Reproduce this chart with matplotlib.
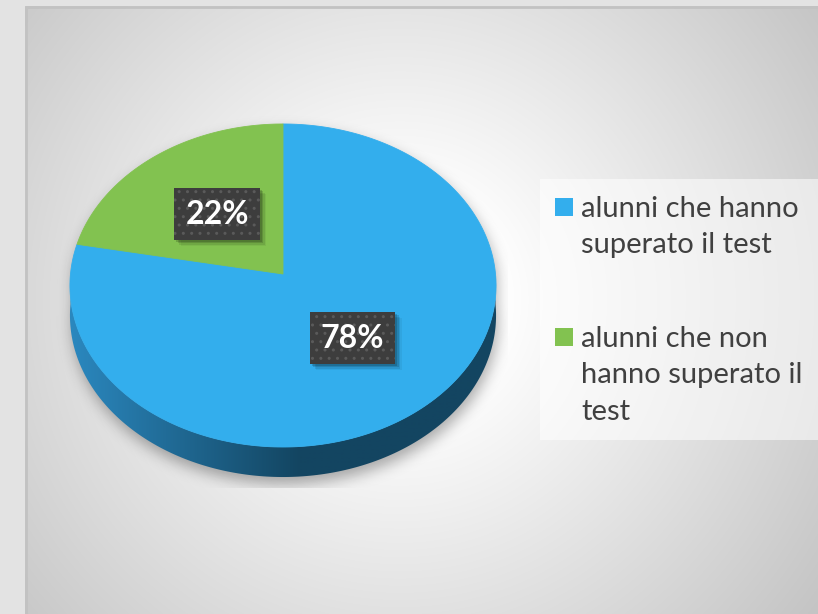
import numpy as np
import matplotlib
matplotlib.use('Agg')
import matplotlib.pyplot as plt
from matplotlib.patches import Polygon, Rectangle
from matplotlib.path import Path

# ---------------- data ----------------
categories = ['alunni che hanno superato il test',
              'alunni che non hanno superato il test']
legend_lines = [['alunni che hanno', 'superato il test'],
                ['alunni che non', 'hanno superato il', 'test']]
values = [78, 22]
pct_labels = ['78%', '22%']
colors = ['#33aeed', '#82c250']
side_colors = [('#2b88bf', '#134561'), ('#5d9a35', '#3a6320')]

W, H = 818, 614
fig = plt.figure(figsize=(8.18, 6.14), dpi=100)
ax = fig.add_axes([0, 0, 1, 1])
ax.axis('off')
ax.set_xlim(0, W)
ax.set_ylim(H, 0)

# ---------------- background ----------------
ax.add_patch(Rectangle((0, 0), W, H, facecolor='#e3e3e3', edgecolor='none', zorder=0))
yy, xx = np.mgrid[0:H, 0:W] + 0.5
r = np.hypot(xx - 400, yy - 300)
g = np.clip(255 - (r - 100) * 0.14, 194, 255) / 255.0
bg = np.dstack([g, g, g])
ax.imshow(bg[6:, 25:], extent=(25, W, H, 6), zorder=1, interpolation='bilinear', aspect='auto')
ax.plot([25.5, 25.5], [6, H], color='#c2c2c2', lw=2, zorder=2, solid_capstyle='butt')
ax.plot([25, W], [6.5, 6.5], color='#c2c2c2', lw=2, zorder=2, solid_capstyle='butt')

# ---------------- pie geometry (perspective) ----------------
CX, CY = 283.0, 274.0
K, A, C = 212.5, 160.7, -0.0712
DEPTH = 30.0


def proj(f, phi_deg):
    phi = np.radians(phi_deg)
    X = f * np.cos(phi)
    Y = -f * np.sin(phi)
    d = 1 + C * Y
    return CX + K * X / d, CY + A * Y / d


total = float(sum(values))
starts, ends = [], []
a0 = 90.0
for v in values:
    a1 = a0 - 360.0 * v / total
    starts.append(a0)
    ends.append(a1)
    a0 = a1

phis = np.linspace(0, 360, 721)
ox, oy = proj(1.0, phis)
front = np.linspace(180, 360, 361)
fx, fy = proj(1.0, front)

# shadow
sx0, sx1, sy0, sy1 = 40, 508, 100, 488
gy, gx = np.mgrid[sy0:sy1, sx0:sx1] + 0.5
sil = np.column_stack([np.concatenate([ox[:361], fx]),
                       np.concatenate([oy[:361], fy + DEPTH])])
path_sil = Path(sil)
mask = path_sil.contains_points(np.column_stack([gx.ravel() - 2, gy.ravel() - 7])).reshape(gx.shape).astype(float)
sig = 7.0
kx = np.arange(-25, 26)
ker = np.exp(-kx ** 2 / (2 * sig ** 2))
ker /= ker.sum()
mb = np.apply_along_axis(lambda m: np.convolve(m, ker, mode='same'), 0, mask)
mb = np.apply_along_axis(lambda m: np.convolve(m, ker, mode='same'), 1, mb)
sh = np.zeros(mb.shape + (4,))
sh[..., 3] = mb * 0.32
ax.imshow(sh, extent=(sx0, sx1, sy1, sy0), zorder=3, interpolation='bilinear', aspect='auto')

# sides (front half only)
for i, (s, e) in enumerate(zip(starts, ends)):
    lo, hi = min(s, e), max(s, e)
    for off in (-360, 0, 360):
        a, b = max(lo + off, 180), min(hi + off, 360)
        if b <= a:
            continue
        ph = np.linspace(a, b, 200)
        px, py = proj(1.0, ph)
        poly = np.column_stack([np.concatenate([px, px[::-1]]),
                                np.concatenate([py, py[::-1] + DEPTH])])
        patch = Polygon(poly, closed=True, facecolor='none', edgecolor='none', zorder=4)
        ax.add_patch(patch)
        c0 = np.array(matplotlib.colors.to_rgb(side_colors[i][0]))
        c1 = np.array(matplotlib.colors.to_rgb(side_colors[i][1]))
        xs = np.linspace(60, 510, 451)
        t = np.clip((xs - 70) / 230.0, 0, 1)[None, :, None]
        grad = c0 * (1 - t) + c1 * t
        im = ax.imshow(grad, extent=(60, 510, 520, 250), zorder=4, aspect='auto',
                       interpolation='bilinear')
        im.set_clip_path(patch)

# top faces
for i, (s, e) in enumerate(zip(starts, ends)):
    ph = np.linspace(s, e, 300)
    px, py = proj(1.0, ph)
    poly = np.column_stack([np.concatenate([[CX], px]), np.concatenate([[CY], py])])
    ax.add_patch(Polygon(poly, closed=True, facecolor=colors[i], edgecolor=colors[i],
                         lw=0.6, zorder=5))

# data labels
renderer = fig.canvas.get_renderer()
inv = ax.transData.inverted()
for i, (s, e) in enumerate(zip(starts, ends)):
    mid = (s + e) / 2.0
    lx, ly = proj(0.5, mid)
    t = ax.text(lx, ly + 1, pct_labels[i], ha='center', va='center', fontsize=23,
                fontweight='bold', family='Lato', color='white', zorder=8)
    bb = t.get_window_extent(renderer)
    (x0, y1), (x1, y0) = inv.transform([[bb.x0, bb.y0], [bb.x1, bb.y1]])
    bw = (x1 - x0) + 22
    bh = 52
    bx, by = lx - bw / 2, ly - bh / 2
    for d, al in [(2, 0.16), (3.5, 0.13), (5, 0.09), (6.5, 0.05)]:
        ax.add_patch(Rectangle((bx + d, by + d), bw, bh, facecolor='black', alpha=al,
                               edgecolor='none', zorder=6))
    ax.add_patch(Rectangle((bx, by), bw, bh, facecolor='#3d3d3d', edgecolor='#5a5a5a',
                           hatch='..', linewidth=0, zorder=7))

# ---------------- legend ----------------
ax.add_patch(Rectangle((540, 179), W - 540, 261, facecolor='white', alpha=0.55,
                       edgecolor='none', zorder=6))
line_h = 36.5
base = 217.0
for i, lines in enumerate(legend_lines):
    ax.add_patch(Rectangle((555, base - 19), 18, 18, facecolor=colors[i],
                           edgecolor='none', zorder=7))
    for j, ln in enumerate(lines):
        ax.text(581, base + j * line_h, ln, ha='left', va='baseline', fontsize=21,
                family='Lato', color='#404040', zorder=7)
    base = base + (len(lines) - 1) * line_h + 130 - line_h

fig.savefig('out.png', dpi=100)
